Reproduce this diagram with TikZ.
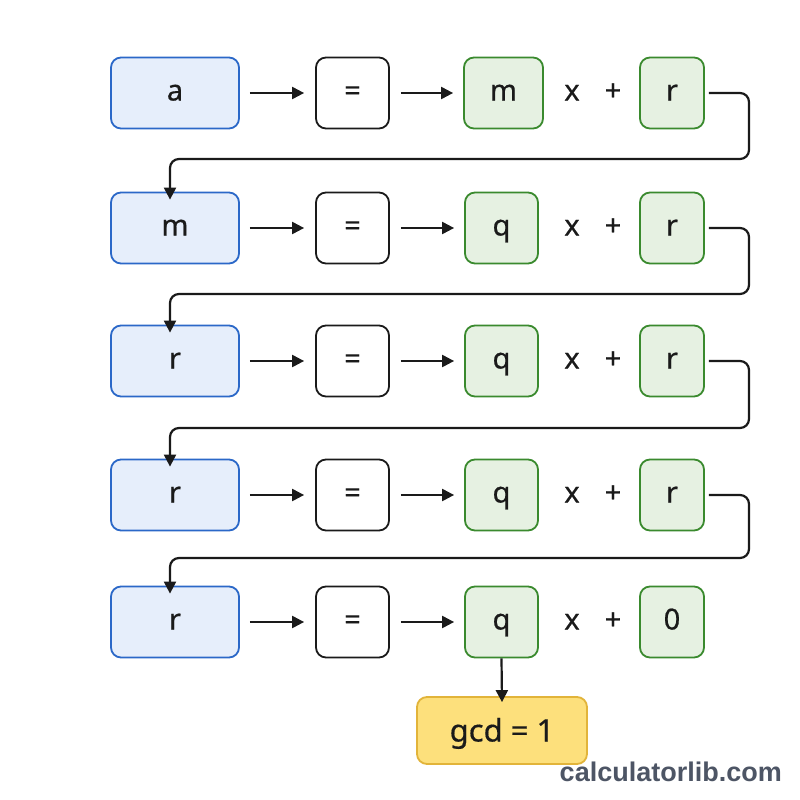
\documentclass[tikz,border=0pt]{standalone}
\usepackage{fontspec}
\setmainfont{Noto Sans}
\newfontfamily\boxfont{Noto Sans}[FakeBold=0.5]
\newfontfamily\wmfont{Liberation Sans}
\usetikzlibrary{arrows.meta,calc}
\definecolor{bluefill}{HTML}{E6EEFB}
\definecolor{blueline}{HTML}{2B68C8}
\definecolor{greenfill}{HTML}{E6F1E2}
\definecolor{greenline}{HTML}{3A8A2E}
\definecolor{yellowfill}{HTML}{FDE07C}
\definecolor{yellowline}{HTML}{E2B43A}
\definecolor{inkc}{HTML}{1A1A1A}
\definecolor{markc}{HTML}{4D5565}
\begin{document}
\begin{tikzpicture}[x=1pt,y=-1pt,
  box/.style={rounded corners=10pt,line width=1.8pt,minimum height=71pt,inner sep=0pt,
    font=\boxfont\fontsize{29}{32}\selectfont,text=inkc,text height=15pt,text depth=0pt},
  bluebox/.style={box,draw=blueline,fill=bluefill,minimum width=128pt},
  eqbox/.style={box,draw=inkc,fill=white,minimum width=73pt},
  greenbox/.style={box,draw=greenline,fill=greenfill,minimum width=73pt},
  rbox/.style={box,draw=greenline,fill=greenfill,minimum width=64pt},
  op/.style={font=\boxfont\fontsize{29}{32}\selectfont,text=inkc,inner sep=0pt,text height=15pt,text depth=0pt},
  arr/.style={draw=inkc,line width=2.2pt,-{Triangle[length=12pt,width=12pt]}},
  link/.style={draw=inkc,line width=2.2pt,rounded corners=9pt,-{Triangle[length=12pt,width=12pt]}}
]
\useasboundingbox[fill=white] (0,0) rectangle (800,800);

% rows
\foreach \i/\y/\lab/\q/\r in {1/93/a/m/r,2/228/m/q/r,3/361/r/q/r,4/495/r/q/r,5/622/r/q/0}{
  \node[bluebox] (b\i) at (175,\y) {\lab};
  \node[eqbox] (e\i) at (352.5,\y) {=};
  \node[op] (x\i) at (572,\y) {x};
  \node[op] (p\i) at (613,\y) {+};
  \node[rbox] (r\i) at (672,\y) {\r};
}
\node[greenbox,minimum width=79pt] (g1) at (503.5,93) {m};
\foreach \i/\y in {2/228,3/361,4/495,5/622}{
  \node[greenbox] (g\i) at (501.5,\y) {q};
}

\foreach \i in {1,...,5}{
  \draw[arr] ([xshift=10pt]b\i.east) -- ([xshift=-11pt]e\i.west);
  \draw[arr] ([xshift=11pt]e\i.east) -- ([xshift=-10pt]g\i.west);
}

% loop-back connectors
\coordinate (c1) at (749,159);
\coordinate (c2) at (749,294);
\coordinate (c3) at (749,428);
\coordinate (c4) at (749,558);
\draw[link] ([xshift=4pt]r1.east) -| (c1) -| ([xshift=-5pt,yshift=-8pt]b2.north);
\draw[link] ([xshift=4pt]r2.east) -| (c2) -| ([xshift=-5pt,yshift=-8pt]b3.north);
\draw[link] ([xshift=4pt]r3.east) -| (c3) -| ([xshift=-5pt,yshift=-8pt]b4.north);
\draw[link] ([xshift=4pt]r4.east) -| (c4) -| ([xshift=-5pt,yshift=-8pt]b5.north);

% result
\node[box,draw=yellowline,fill=yellowfill,minimum width=170pt,minimum height=67pt,
  font=\boxfont\fontsize{31}{34}\selectfont,text height=22pt,text depth=0pt] (gcd) at (502,730.5) {gcd = 1};
\draw[arr] (g5.south) -- ([yshift=-6pt]gcd.north);

\node[text=markc,font=\wmfont\bfseries\fontsize{27}{30}\selectfont,anchor=east,inner sep=0pt] (wm) at (782,772) {calculatorlib.com};
\end{tikzpicture}
\end{document}
